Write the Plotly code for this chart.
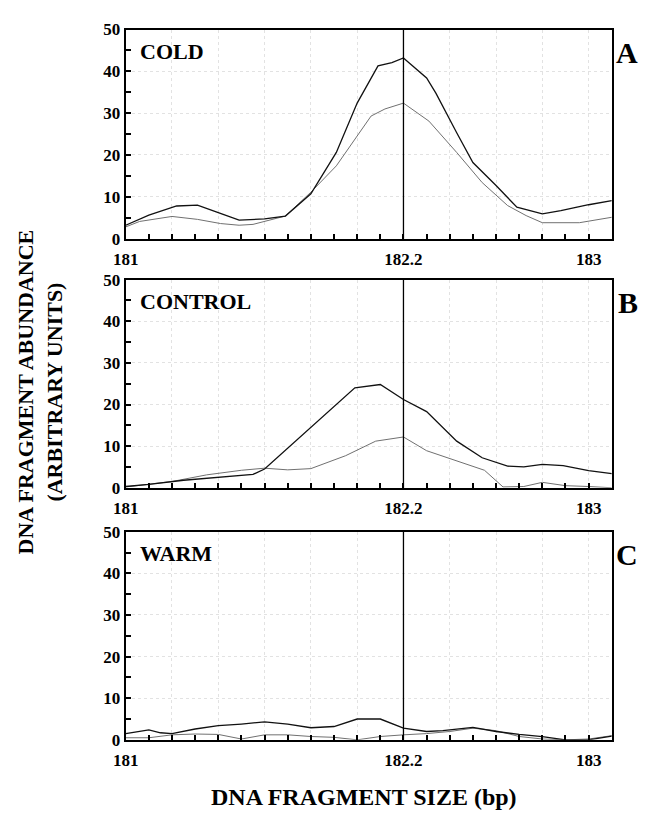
import plotly.graph_objects as go

# ---------------- data ----------------
panel_names = ["COLD", "CONTROL", "WARM"]
panel_letters = ["A", "B", "C"]

cold_x1 = [181.0, 181.1, 181.22, 181.31, 181.4, 181.49, 181.6, 181.69, 181.8, 181.91, 182.0, 182.09, 182.15, 182.2,
           182.3, 182.34, 182.43, 182.5, 182.6, 182.69, 182.8, 182.88, 183.0, 183.1]
cold_y1 = [3.2, 5.6, 7.8, 8.0, 6.2, 4.4, 4.7, 5.4, 10.7, 20.6, 32.4, 41.3, 42.1, 43.2,
           38.4, 34.8, 25.3, 18.2, 12.7, 7.5, 5.9, 6.7, 8.1, 9.1]
cold_x2 = [181.0, 181.06, 181.2, 181.31, 181.41, 181.49, 181.55, 181.69, 181.8, 181.91, 182.06, 182.12, 182.2,
           182.31, 182.43, 182.54, 182.65, 182.73, 182.8, 182.96, 183.1]
cold_y2 = [2.8, 4.1, 5.3, 4.6, 3.6, 3.2, 3.4, 5.4, 11.1, 17.4, 29.3, 31.0, 32.4,
           28.1, 20.6, 13.4, 7.9, 5.5, 3.8, 3.8, 5.1]

ctrl_x1 = [181.0, 181.1, 181.25, 181.4, 181.55, 181.6, 181.8, 181.99, 182.1, 182.2, 182.3, 182.43,
           182.54, 182.65, 182.72, 182.8, 182.89, 183.0, 183.1]
ctrl_y1 = [0.3, 0.8, 1.8, 2.5, 3.2, 4.5, 14.5, 24.0, 24.8, 21.2, 18.3, 11.2,
           7.2, 5.2, 5.0, 5.6, 5.3, 4.1, 3.4]
ctrl_x2 = [181.0, 181.2, 181.35, 181.5, 181.6, 181.7, 181.8, 181.95, 182.08, 182.2, 182.3, 182.45, 182.55,
           182.63, 182.72, 182.8, 182.9, 183.0, 183.1]
ctrl_y2 = [0.2, 1.5, 3.1, 4.2, 4.7, 4.3, 4.6, 7.7, 11.2, 12.2, 8.9, 6.1, 4.2,
           0.2, 0.3, 1.3, 0.5, 0.3, 0.0]

warm_x1 = [181.0, 181.1, 181.15, 181.2, 181.3, 181.4, 181.5, 181.6, 181.7, 181.8, 181.9, 182.0, 182.1, 182.2,
           182.3, 182.37, 182.5, 182.6, 182.7, 182.8, 182.9, 183.0, 183.1]
warm_y1 = [1.5, 2.4, 1.7, 1.5, 2.6, 3.4, 3.8, 4.3, 3.8, 2.9, 3.2, 5.0, 5.0, 2.8,
           2.0, 2.2, 3.0, 2.0, 1.3, 0.75, 0.0, 0.0, 0.9]
warm_x2 = [181.0, 181.1, 181.2, 181.3, 181.4, 181.5, 181.6, 181.7, 181.8, 181.9, 182.0, 182.1, 182.2,
           182.3, 182.4, 182.5, 182.6, 182.7, 182.8, 182.9, 183.0, 183.1]
warm_y2 = [0.5, 0.5, 1.2, 1.4, 1.3, 0.2, 1.2, 1.2, 0.8, 0.6, 0.0, 0.8, 1.2,
           1.5, 2.0, 2.8, 2.2, 0.8, 0.2, 0.0, 0.2, 1.0]

x_tick_vals = [181, 182.2, 183]
x_tick_text = ["181", "182.2", "183"]
y_tick_vals = [0, 10, 20, 30, 40, 50]
marker_x = 182.2

series = [
    (cold_x1, cold_y1, cold_x2, cold_y2),
    (ctrl_x1, ctrl_y1, ctrl_x2, ctrl_y2),
    (warm_x1, warm_y1, warm_x2, warm_y2),
]

# ---------------- layout ----------------
W, H = 650, 828
FONT = "Liberation Serif"
x_dom = [115 / W, 611 / W]
panel_px = [(21, 235), (277, 490), (535, 748)]  # top, bottom in pixels

fig = go.Figure()
grid_vals = [round(181 + 0.2 * i, 1) for i in range(11)]

for i, (xa, ya, xb, yb) in enumerate(series):
    n = "" if i == 0 else str(i + 1)
    xref, yref = "x" + n, "y" + n
    fig.add_trace(go.Scatter(x=xb, y=yb, mode="lines", xaxis=xref, yaxis=yref,
                             line=dict(color="#707070", width=1), showlegend=False))
    fig.add_trace(go.Scatter(x=xa, y=ya, mode="lines", xaxis=xref, yaxis=yref,
                             line=dict(color="#111111", width=1.3), showlegend=False))
    top, bot = panel_px[i]
    ydom = [1 - bot / H, 1 - top / H]
    ticktext_x = [x_tick_text[x_tick_vals.index(v)] if v in x_tick_vals else "" for v in grid_vals]
    fig.layout["xaxis" + n] = dict(
        domain=x_dom, range=[181, 183.1], anchor=yref,
        tickvals=grid_vals, ticktext=ticktext_x,
        ticks="inside", ticklen=5, tickwidth=1.5, tickcolor="black",
        minor=dict(dtick=0.1, tick0=181, ticks="inside", ticklen=5, tickcolor="black", showgrid=False),
        showline=True, linecolor="black", linewidth=2, mirror=True,
        showgrid=True, gridcolor="#e2e2e2", griddash="dot", gridwidth=1,
        tickfont=dict(family=FONT, size=17, color="black", weight="bold"),
        ticklabelstandoff=4,
        zeroline=False,
    )
    fig.layout["yaxis" + n] = dict(
        domain=ydom, range=[0, 50], anchor=xref,
        tickvals=y_tick_vals,
        ticks="inside", ticklen=5, tickwidth=1.5, tickcolor="black",
        minor=dict(dtick=5, ticks="inside", ticklen=5, tickcolor="black", showgrid=False),
        showline=True, linecolor="black", linewidth=2, mirror=True,
        showgrid=True, gridcolor="#e2e2e2", griddash="dot", gridwidth=1,
        tickfont=dict(family=FONT, size=17, color="black", weight="bold"),
        zeroline=False,
    )
    fig.add_shape(type="line", xref=xref, yref=yref + " domain", x0=marker_x, x1=marker_x, y0=0, y1=1,
                  line=dict(color="black", width=1.3))
    fig.add_annotation(xref=xref + " domain", yref=yref + " domain", x=0.025, y=0.965,
                       xanchor="left", yanchor="top", showarrow=False, text=panel_names[i],
                       font=dict(family=FONT, size=22, color="black", weight="bold"))
    fig.add_annotation(xref="paper", yref=yref + " domain", x=640 / W, y=0.89,
                       xanchor="right", yanchor="middle", showarrow=False, text=panel_letters[i],
                       font=dict(family=FONT, size=30, color="black", weight="bold"))

fig.add_annotation(xref="paper", yref="paper", x=28 / W, y=1 - 392 / H, textangle=-90,
                   xanchor="center", yanchor="middle",
                   showarrow=False, text="DNA FRAGMENT ABUNDANCE<br>(ARBITRARY UNITS)",
                   font=dict(family=FONT, size=22, color="black", weight="bold"))
fig.add_annotation(xref="paper", yref="paper", x=358 / W, y=1 - 806 / H,
                   xanchor="center", yanchor="middle",
                   showarrow=False, text="DNA FRAGMENT SIZE (bp)",
                   font=dict(family=FONT, size=24, color="black", weight="bold"))

fig.update_layout(width=W, height=H, margin=dict(l=0, r=0, t=0, b=0),
                  plot_bgcolor="white", paper_bgcolor="white")

fig.write_html("out.html", config={"displayModeBar": False},
               post_script="document.body.style.margin='0';")
